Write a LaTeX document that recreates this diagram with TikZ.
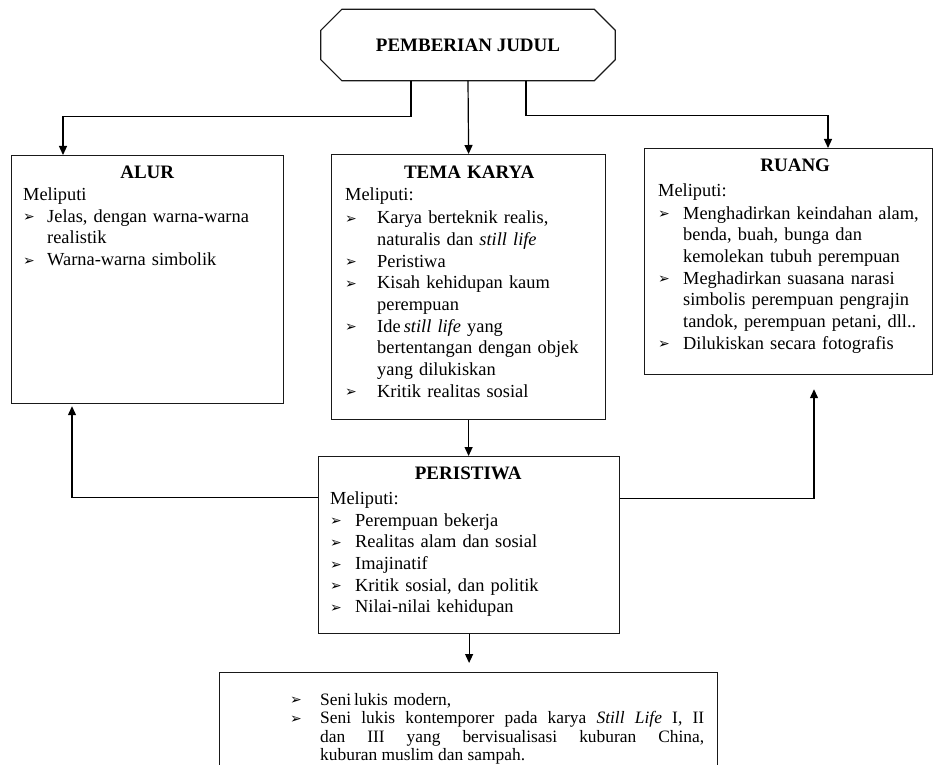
\documentclass[tikz,border=0pt]{standalone}
\usepackage{fontspec}
\setmainfont{Liberation Serif}
\newfontfamily\dingfont{DejaVu Sans}
\usetikzlibrary{arrows.meta,positioning}
\setlength{\parindent}{0pt}

% bullet and list item with hanging indent
\newcommand{\bul}{\raisebox{0.5pt}{\dingfont\fontsize{14}{14}\selectfont ➢}}
\newcommand{\butir}[2][25pt]{\par\hangindent=#1\hangafter=1\noindent\makebox[#1][l]{\bul}#2}
\newcommand{\judulkotak}[2][0pt]{{\centering\fontsize{19}{21.7}\selectfont\bfseries #2\par}\vspace{#1}}

\begin{document}
\begin{tikzpicture}
    [x=1pt,y=-1pt,
    kotak/.style={draw=black!90,line width=1.2pt,inner sep=0pt,anchor=north west},
    isi/.style={inner sep=0pt,anchor=north west,align=left,font=\fontsize{18.4}{21.7}\selectfont},
    garis/.style={draw=black!90,line width=1.2pt},
    panah/.style={-{Triangle[length=9pt,width=8pt]},line width=1.2pt}]

\clip (0,0) rectangle (934,765);

%title
\node[inner sep=0pt,minimum width=294pt,minimum height=71pt,font=\fontsize{19}{21}\selectfont\bfseries] (judul) at (468,45) {PEMBERIAN JUDUL};
\draw[garis] ([xshift=21pt]judul.north west) -- ([xshift=-21pt]judul.north east)
    -- ([yshift=-21pt]judul.north east) -- ([yshift=21pt]judul.south east)
    -- ([xshift=-21pt]judul.south east) -- ([xshift=21pt]judul.south west)
    -- ([yshift=21pt]judul.south west) -- ([yshift=-21pt]judul.north west) -- cycle;

%boxes
\node[kotak,minimum width=272pt,minimum height=248pt] (alur) at (11,155) {};
\node[kotak,minimum width=274pt,minimum height=265pt] (tema) at (331,154) {};
\node[kotak,minimum width=288pt,minimum height=226pt] (ruang) at (644,148) {};
\node[kotak,minimum width=301pt,minimum height=177pt] (peristiwa) at (318,456) {};
\node[kotak,minimum width=498pt,minimum height=130pt] (seni) at (219,672) {};

%box texts
\node[isi,text width=248pt] (alurisi) at ([xshift=12pt,yshift=-11pt]alur.north west) {%
\judulkotak{ALUR}
Meliputi
\butir[24pt]{Jelas, dengan warna-warna\newline realistik}
\butir[24pt]{Warna-warna simbolik}};

\node[isi,text width=248pt] (temaisi) at ([xshift=14pt,yshift=-12pt]tema.north west) {%
\judulkotak{TEMA KARYA}
Meliputi:\par\vspace{1.5pt}
\butir[32pt]{Karya berteknik realis,\newline naturalis dan \textit{still life}}
\butir[32pt]{Peristiwa}
\butir[32pt]{Kisah kehidupan kaum\newline perempuan}
\butir[32pt]{Ide\,\textit{still life} yang\newline bertentangan dengan objek\newline yang dilukiskan}
\butir[32pt]{Kritik realitas sosial}};

\node[isi,text width=274pt] (ruangisi) at ([xshift=14pt,yshift=-11pt]ruang.north west) {%
\judulkotak[3pt]{RUANG}
Meliputi:\par\vspace{1pt}
\butir{Menghadirkan keindahan alam,\newline benda, buah, bunga dan\newline kemolekan tubuh perempuan}
\butir{Meghadirkan suasana narasi\newline simbolis perempuan pengrajin\newline tandok, perempuan petani, dll..}
\butir{Dilukiskan secara fotografis}};

\node[isi,text width=276pt] (peristiwaisi) at ([xshift=12pt,yshift=-11pt]peristiwa.north west) {%
\judulkotak[3pt]{PERISTIWA}
Meliputi:
\butir{Perempuan bekerja}
\butir{Realitas alam dan sosial}
\butir{Imajinatif}
\butir{Kritik sosial, dan politik}
\butir{Nilai-nilai kehidupan}};

\node[isi,text width=414pt,font=\fontsize{17.4}{18.4}\selectfont] (seniisi) at ([xshift=71pt,yshift=-21pt]seni.north west) {%
\makebox[30pt][l]{\bul}Seni\,lukis modern,\par
\makebox[30pt][l]{\bul}\parbox[t]{384pt}{\rightskip=0pt\spaceskip=0pt\xspaceskip=0pt\parfillskip=0pt plus 1fil
Seni lukis kontemporer pada karya \textit{Still Life} I, II\linebreak dan III yang bervisualisasi kuburan China,\linebreak kuburan muslim dan sampah.}};

%connectors
\draw[panah] ([xshift=-57pt]judul.south) -- ++(0,36) -| ([xshift=52pt]alur.north west);
\draw[panah] (judul.south) -- (tema.north);
\draw[panah] ([xshift=58pt]judul.south) -- ++(0,35) -| ([xshift=184pt]ruang.north west);
\draw[panah] (tema.south) -- (tema.south |- peristiwa.north);
\draw[panah] ([yshift=48pt]peristiwa.west) -| ([xshift=61pt,yshift=-2pt]alur.south west);
\draw[panah] ([yshift=47pt]peristiwa.east) -| ([xshift=170pt,yshift=-14pt]ruang.south west);
\draw[panah] (peristiwa.south) -- ([yshift=9pt]peristiwa.south |- seni.north);

\end{tikzpicture}
\end{document}
